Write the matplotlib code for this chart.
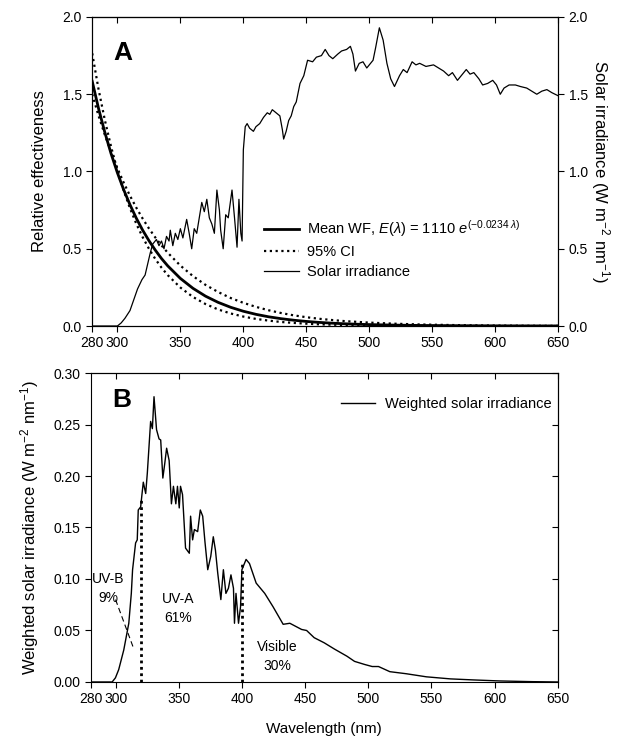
import numpy as np
import matplotlib
matplotlib.use('Agg')
import matplotlib.pyplot as plt

plt.rcParams['font.family'] = ['Liberation Sans', 'DejaVu Sans']
plt.rcParams['font.size'] = 10
plt.rcParams['mathtext.fontset'] = 'custom'
plt.rcParams['mathtext.rm'] = 'Liberation Sans'
plt.rcParams['mathtext.it'] = 'Liberation Sans:italic'

# weighting function (mean and 95% CI)
wf_wl = [280, 285, 290, 295, 300, 305, 310, 315, 320, 325, 330, 335, 340, 350, 360, 370, 380,
         390, 400, 410, 420, 430, 440, 450, 460, 470, 480, 490, 500, 520, 540, 560, 580,
         600, 620, 640, 650]
wf_mean = [1.584, 1.409, 1.254, 1.115, 0.992, 0.882, 0.785, 0.698, 0.621, 0.553, 0.492, 0.437,
           0.389, 0.308, 0.244, 0.193, 0.153, 0.121, 0.0956, 0.0756, 0.0598, 0.0474, 0.0375,
           0.0297, 0.0235, 0.0186, 0.0147, 0.0116, 0.0092, 0.0058, 0.0036, 0.0023, 0.0014,
           0.0009, 0.00055, 0.00035, 0.0003]
wf_ci_hi = [1.500, 1.362, 1.238, 1.125, 1.021, 0.928, 0.843, 0.766, 0.696, 0.632, 0.574, 0.522,
            0.474, 0.391, 0.323, 0.266, 0.220, 0.181, 0.150, 0.124, 0.102, 0.084, 0.069, 0.057,
            0.047, 0.039, 0.032, 0.027, 0.022, 0.015, 0.010, 0.007, 0.0047, 0.0032, 0.0022,
            0.0015, 0.0012]
wf_ci_lo = [1.765, 1.534, 1.334, 1.160, 1.008, 0.876, 0.762, 0.662, 0.576, 0.501, 0.435, 0.378,
            0.329, 0.249, 0.188, 0.142, 0.107, 0.081, 0.061, 0.046, 0.035, 0.026, 0.020, 0.015,
            0.011, 0.0086, 0.0065, 0.0049, 0.0037, 0.0021, 0.0012, 0.0007, 0.0004, 0.0002,
            0.0001, 0.0001, 0.0]

# solar irradiance (W m-2 nm-1)
sol_wl = [280, 300, 303, 306, 310, 313, 316, 319.5, 322, 324, 326, 328, 331, 333, 335, 337, 339,
          341, 342, 344, 346, 348, 350, 352, 355, 357, 359, 361, 363, 365, 367, 369, 371, 373,
          375, 377, 379, 381, 382, 384, 386, 388, 391, 393, 395, 396.5, 398, 399, 400, 401.5,
          403, 405, 408, 410, 413, 416, 419, 421, 423, 426, 429, 431, 432, 434, 436, 438, 440,
          442, 445, 448, 451, 455, 458, 462, 465, 468, 471, 475, 478, 482, 485, 487, 489, 492,
          495, 498, 501, 503, 505, 508, 511, 514, 517, 520, 524, 527, 530, 534, 537, 540, 545,
          551, 555, 559, 563, 566, 570, 574, 577, 580, 583, 587, 590, 594, 598, 601, 604, 607,
          611, 616, 620, 625, 629, 633, 637, 641, 645, 650]
sol_irr = [0, 0, 0.02, 0.05, 0.10, 0.17, 0.24, 0.30, 0.33, 0.40, 0.47, 0.53, 0.56, 0.52, 0.55,
           0.50, 0.58, 0.55, 0.62, 0.52, 0.60, 0.56, 0.63, 0.57, 0.69, 0.60, 0.50, 0.63, 0.60,
           0.70, 0.80, 0.74, 0.82, 0.70, 0.66, 0.60, 0.88, 0.75, 0.62, 0.50, 0.72, 0.70, 0.88,
           0.70, 0.51, 0.82, 0.60, 0.55, 1.14, 1.29, 1.31, 1.28, 1.26, 1.29, 1.31, 1.35, 1.38,
           1.37, 1.40, 1.38, 1.36, 1.27, 1.21, 1.26, 1.33, 1.36, 1.42, 1.45, 1.57, 1.62, 1.72,
           1.71, 1.74, 1.75, 1.79, 1.75, 1.73, 1.76, 1.78, 1.79, 1.81, 1.76, 1.65, 1.70, 1.71,
           1.67, 1.70, 1.72, 1.80, 1.93, 1.85, 1.70, 1.60, 1.55, 1.62, 1.66, 1.64, 1.71, 1.69,
           1.70, 1.68, 1.69, 1.67, 1.65, 1.62, 1.64, 1.59, 1.63, 1.66, 1.63, 1.64, 1.60, 1.56,
           1.57, 1.59, 1.56, 1.50, 1.54, 1.56, 1.56, 1.55, 1.54, 1.52, 1.50, 1.52, 1.53, 1.51,
           1.49]

# weighted solar irradiance, panel B
w_wl = [280, 296.8, 299.4, 302, 306, 310, 312, 313, 315.4, 316.7, 317.5, 319.4, 320.7, 321.5,
        323.4, 324.7, 326, 327.3, 328.7, 330, 332, 334, 335.3, 337, 338.5, 340, 342, 343.8,
        345.4, 347.3, 348.6, 350, 351, 352.6, 355, 358, 359, 360.6, 362, 364.6, 366.7, 368.6,
        370.4, 372.6, 375, 377, 378.7, 380.5, 383, 385, 387, 389, 391, 393, 393.8, 395, 397,
        398.6, 399.7, 403, 405.7, 411, 417.8, 424.4, 432.4, 437.7, 447, 451, 457, 465, 473,
        483, 489, 497, 503, 508, 517, 530, 546, 565, 583, 604, 630, 650]
w_irr = [0, 0, 0.004, 0.012, 0.031, 0.057, 0.086, 0.109, 0.135, 0.138, 0.167, 0.170, 0.185,
         0.194, 0.183, 0.203, 0.228, 0.253, 0.246, 0.277, 0.245, 0.236, 0.235, 0.198, 0.212,
         0.227, 0.215, 0.173, 0.190, 0.173, 0.190, 0.169, 0.190, 0.182, 0.130, 0.125, 0.161,
         0.138, 0.148, 0.146, 0.167, 0.161, 0.136, 0.109, 0.122, 0.141, 0.128, 0.106, 0.080,
         0.109, 0.086, 0.091, 0.104, 0.091, 0.057, 0.086, 0.057, 0.073, 0.109, 0.119, 0.115,
         0.096, 0.086, 0.073, 0.056, 0.057, 0.051, 0.050, 0.043, 0.038, 0.032, 0.025, 0.020,
         0.017, 0.015, 0.015, 0.010, 0.008, 0.005, 0.003, 0.002, 0.001, 0.0003, 0]

band_edges = [320, 400]
band_tops = [0.178, 0.115]

xticks = [280, 300, 350, 400, 450, 500, 550, 600, 650]

fig = plt.figure(figsize=(6.23, 7.45), dpi=100)
axA = fig.add_axes([0.148, 0.5624, 0.748, 0.4148])
axB = fig.add_axes([0.146, 0.0846, 0.749, 0.4147])

# ---- panel A
axA.plot(wf_wl, wf_mean, color='black', lw=2.0,
         label='Mean WF, $E(\\lambda)$ = 1110 $e^{(-0.0234\\ \\lambda)}$')
axA.plot(wf_wl, wf_ci_hi, color='black', lw=1.6, ls=(0, (1, 1.6)), label='95% CI')
axA.plot(wf_wl, wf_ci_lo, color='black', lw=1.6, ls=(0, (1, 1.6)))
axA2 = axA.twinx()
axA2.plot(sol_wl, sol_irr, color='black', lw=0.9)
axA.plot([], [], color='black', lw=0.9, label='Solar irradiance')

axA.set_xlim(280, 650)
axA.set_ylim(0, 2.0)
axA2.set_ylim(0, 2.0)
axA.set_yticks([0, 0.5, 1.0, 1.5, 2.0])
axA2.set_yticks([0, 0.5, 1.0, 1.5, 2.0])
axA.set_xticks(xticks)
axA.set_ylabel('Relative effectiveness', fontsize=12, labelpad=11)
axA2.set_ylabel('Solar irradiance (W m$^{-2}$ nm$^{-1}$)', rotation=270, labelpad=17, fontsize=12)
axA.tick_params(direction='out', length=4)
axA2.tick_params(direction='out', length=4)
secA = axA.secondary_xaxis('top')
secA.set_xticks(xticks[1:])
secA.set_xticklabels([])
secA.tick_params(direction='in', length=4)
axA.text(304, 1.77, 'A', fontsize=19, fontweight='bold', ha='center', va='center')
axA.legend(loc='upper left', bbox_to_anchor=(0.354, 0.372), frameon=False, handlelength=2.35,
           labelspacing=0.42, borderpad=0, handletextpad=0.6, fontsize=10.5)

# ---- panel B
axB.plot(w_wl, w_irr, color='black', lw=1.0, label='Weighted solar irradiance')
for x, top in zip(band_edges, band_tops):
    axB.plot([x, x], [0, top], color='black', lw=2.0, ls=(0, (1, 1.3)))
axB.plot([299.5, 313.7], [0.080, 0.033], color='black', lw=0.8, ls=(0, (5, 3)))
axB.text(293.5, 0.091, 'UV-B\n9%', ha='center', va='center', fontsize=10, linespacing=1.45)
axB.text(349, 0.071, 'UV-A\n61%', ha='center', va='center', fontsize=10, linespacing=1.45)
axB.text(428, 0.025, 'Visible\n30%', ha='center', va='center', fontsize=10, linespacing=1.45)
axB.text(304.5, 0.274, 'B', fontsize=19, fontweight='bold', ha='center', va='center')

axB.set_xlim(280, 650)
axB.set_ylim(0, 0.30)
axB.set_xticks(xticks)
axB.set_yticks(np.arange(0, 0.31, 0.05))
axB.yaxis.set_major_formatter(matplotlib.ticker.FormatStrFormatter('%.2f'))
axB.set_xlabel('Wavelength (nm)', fontsize=11, labelpad=11)
axB.set_ylabel('Weighted solar irradiance (W m$^{-2}$ nm$^{-1}$)', fontsize=12, labelpad=9)
axB.tick_params(direction='out', length=4)
secBx = axB.secondary_xaxis('top')
secBx.set_xticks(xticks[1:])
secBx.set_xticklabels([])
secBx.tick_params(direction='in', length=4)
secBy = axB.secondary_yaxis('right')
secBy.set_yticks(np.arange(0.05, 0.31, 0.05))
secBy.set_yticklabels([])
secBy.tick_params(direction='in', length=4)
axB.legend(loc='upper right', bbox_to_anchor=(1.0, 0.942), frameon=False, handlelength=2.35,
           borderaxespad=0, handletextpad=0.7, fontsize=10.5)

fig.savefig('out.png', dpi=100)
